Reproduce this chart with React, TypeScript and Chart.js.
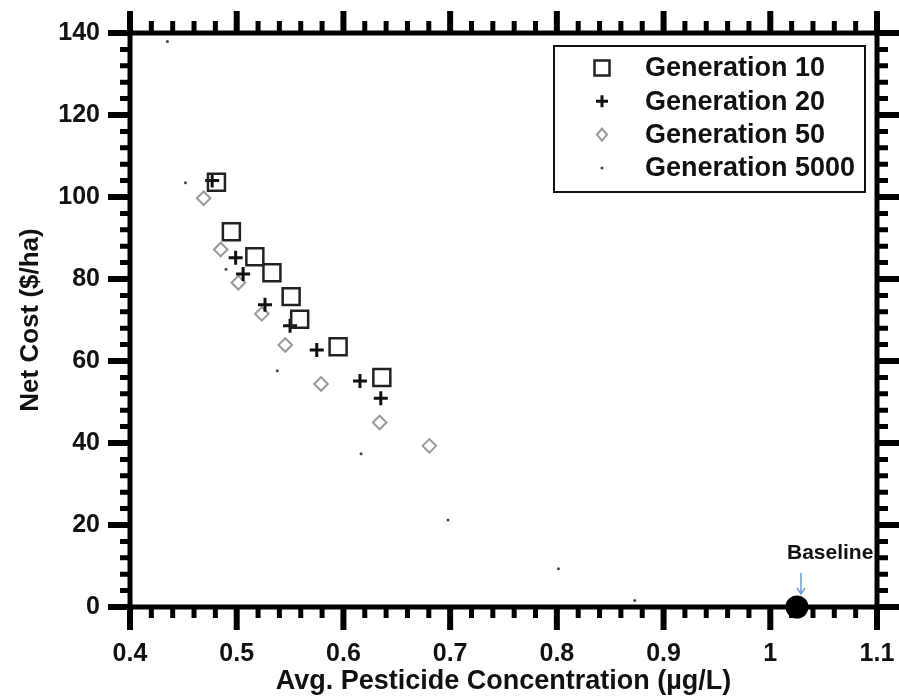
import React, { useEffect, useRef } from "react";
import { Chart, registerables } from "chart.js";

Chart.register(...registerables);

const GEN10_X = [0.481, 0.495, 0.517, 0.533, 0.551, 0.559, 0.595, 0.636];
const GEN10_Y = [103.6, 91.5, 85.4, 81.5, 75.7, 70.2, 63.5, 56.0];

const GEN20_X = [0.477, 0.499, 0.506, 0.5265, 0.55, 0.575, 0.6155, 0.635];
const GEN20_Y = [104.0, 85.2, 81.2, 73.7, 68.6, 62.7, 55.1, 50.9];

const GEN50_X = [0.469, 0.485, 0.5015, 0.5235, 0.5455, 0.579, 0.634, 0.6805];
const GEN50_Y = [99.7, 87.2, 79.1, 71.5, 63.9, 54.4, 45.0, 39.3];

const GEN5000_X = [0.435, 0.452, 0.49, 0.538, 0.6165, 0.698, 0.8015, 0.873];
const GEN5000_Y = [137.9, 103.5, 82.4, 57.6, 37.4, 21.2, 9.3, 1.6];

const BASELINE_X = [1.025];
const BASELINE_Y = [0];

const SERIES_NAMES = ["Generation 10", "Generation 20", "Generation 50", "Generation 5000"];
const X_TICKS = [0.4, 0.5, 0.6, 0.7, 0.8, 0.9, 1, 1.1];
const Y_TICKS = [0, 20, 40, 60, 80, 100, 120, 140];
const X_TITLE = "Avg. Pesticide Concentration (\u00b5g/L)";
const Y_TITLE = "Net Cost ($/ha)";
const BASELINE_LABEL = "Baseline";

const FONT = "'Liberation Sans', Arial, sans-serif";

const zip = (xs: number[], ys: number[]) => xs.map((x, i) => ({ x, y: ys[i] }));

function drawSymbol(ctx: CanvasRenderingContext2D, kind: number, x: number, y: number) {
  ctx.save();
  if (kind === 0) {
    ctx.strokeStyle = "#222";
    ctx.lineWidth = 2.5;
    ctx.strokeRect(x - 7.5, y - 7.5, 15, 15);
  } else if (kind === 1) {
    ctx.strokeStyle = "#111";
    ctx.lineWidth = 3;
    ctx.beginPath();
    ctx.moveTo(x - 6, y);
    ctx.lineTo(x + 6, y);
    ctx.moveTo(x, y - 6);
    ctx.lineTo(x, y + 6);
    ctx.stroke();
  } else if (kind === 2) {
    ctx.strokeStyle = "#999";
    ctx.lineWidth = 2;
    ctx.beginPath();
    ctx.moveTo(x, y - 6);
    ctx.lineTo(x + 5, y);
    ctx.lineTo(x, y + 6);
    ctx.lineTo(x - 5, y);
    ctx.closePath();
    ctx.stroke();
  } else {
    ctx.fillStyle = "#444";
    ctx.beginPath();
    ctx.arc(x, y, 1.5, 0, Math.PI * 2);
    ctx.fill();
  }
  ctx.restore();
}

const framePlugin = {
  id: "frameTicks",
  beforeDatasetsDraw(chart: any) {
    const { ctx, chartArea } = chart;
    const { left, right, top, bottom } = chartArea;
    const xs = chart.scales.x;
    const ys = chart.scales.y;
    ctx.save();
    ctx.strokeStyle = "#000";
    ctx.lineCap = "butt";
    for (let i = 0; i <= 35; i++) {
      const v = 0.4 + i * 0.02;
      const px = xs.getPixelForValue(v);
      const major = i % 5 === 0;
      ctx.lineWidth = major ? 6 : 5;
      ctx.beginPath();
      ctx.moveTo(px, bottom);
      ctx.lineTo(px, bottom + (major ? 23 : 11));
      ctx.moveTo(px, top);
      ctx.lineTo(px, top - (major ? 22 : 12));
      ctx.stroke();
    }
    for (let i = 0; i <= 35; i++) {
      const v = i * 4;
      const py = ys.getPixelForValue(v);
      const major = i % 5 === 0;
      ctx.lineWidth = major ? 6 : 5;
      ctx.beginPath();
      ctx.moveTo(left, py);
      ctx.lineTo(left - (major ? 22 : 10), py);
      ctx.moveTo(right, py);
      ctx.lineTo(right + (major ? 22 : 11), py);
      ctx.stroke();
    }
    ctx.lineWidth = 5;
    ctx.strokeRect(left, top, right - left, bottom - top);
    ctx.restore();
  },
  afterDatasetsDraw(chart: any) {
    const { ctx, chartArea } = chart;
    const xs = chart.scales.x;
    const ys = chart.scales.y;
    const bx = xs.getPixelForValue(BASELINE_X[0]);
    const by = ys.getPixelForValue(BASELINE_Y[0]);
    ctx.save();
    ctx.fillStyle = "#111";
    ctx.font = `bold 21px ${FONT}`;
    ctx.textAlign = "left";
    ctx.textBaseline = "middle";
    ctx.fillText(BASELINE_LABEL, bx - 10, by - 54);
    const ax = bx + 4;
    ctx.strokeStyle = "#6f9fcf";
    ctx.lineWidth = 1.5;
    ctx.beginPath();
    ctx.moveTo(ax, by - 34);
    ctx.lineTo(ax, by - 13);
    ctx.moveTo(ax - 4, by - 19);
    ctx.lineTo(ax, by - 13);
    ctx.lineTo(ax + 4, by - 19);
    ctx.stroke();
    ctx.restore();

    const lx = chartArea.right - 323;
    const ly = chartArea.top + 13;
    ctx.save();
    ctx.strokeStyle = "#111";
    ctx.lineWidth = 2;
    ctx.strokeRect(lx, ly, 311, 146);
    ctx.font = `bold 27px ${FONT}`;
    ctx.fillStyle = "#111";
    ctx.textAlign = "left";
    ctx.textBaseline = "middle";
    SERIES_NAMES.forEach((name, i) => {
      const ry = ly + 22 + i * 33.3;
      drawSymbol(ctx, i, lx + 48, ry);
      ctx.fillText(name, lx + 91, ry + 1);
    });
    ctx.restore();
  },
};

export default function App() {
  const ref = useRef<HTMLCanvasElement | null>(null);
  useEffect(() => {
    if (!ref.current) return;
    const tickFont = { family: FONT, size: 25, weight: "bold" as const };
    const xTitleFont = { family: FONT, size: 27, weight: "bold" as const };
    const yTitleFont = { family: FONT, size: 26, weight: "bold" as const };
    const noPad = (s: any) => {
      s.paddingLeft = 0;
      s.paddingRight = 0;
      s.paddingTop = 0;
      s.paddingBottom = 0;
    };
    const chart = new Chart(ref.current, {
      type: "scatter",
      data: {
        datasets: [
          {
            label: SERIES_NAMES[0],
            data: zip(GEN10_X, GEN10_Y),
            pointStyle: "rect",
            pointRadius: 12,
            borderColor: "#222",
            borderWidth: 2.5,
            backgroundColor: "rgba(0,0,0,0)",
          },
          {
            label: SERIES_NAMES[1],
            data: zip(GEN20_X, GEN20_Y),
            pointStyle: "cross",
            pointRadius: 7,
            borderColor: "#111",
            borderWidth: 3,
            backgroundColor: "rgba(0,0,0,0)",
          },
          {
            label: SERIES_NAMES[2],
            data: zip(GEN50_X, GEN50_Y),
            pointStyle: "rectRot",
            pointRadius: 6.8,
            borderColor: "#999",
            borderWidth: 2,
            backgroundColor: "rgba(0,0,0,0)",
          },
          {
            label: SERIES_NAMES[3],
            data: zip(GEN5000_X, GEN5000_Y),
            pointStyle: "circle",
            pointRadius: 1.5,
            borderWidth: 0,
            backgroundColor: "#444",
          },
          {
            label: BASELINE_LABEL,
            data: zip(BASELINE_X, BASELINE_Y),
            pointStyle: "circle",
            pointRadius: 11.5,
            borderWidth: 0,
            backgroundColor: "#000",
            clip: false as any,
          },
        ],
      },
      options: {
        responsive: false,
        animation: false,
        layout: { padding: 0 },
        plugins: { legend: { display: false }, tooltip: { enabled: false } },
        scales: {
          x: {
            type: "linear",
            position: "bottom",
            min: 0.4,
            max: 1.1,
            afterBuildTicks: (s: any) => {
              s.ticks = X_TICKS.map((v) => ({ value: v }));
            },
            afterFit: (s: any) => {
              s.height = 91;
              noPad(s);
            },
            ticks: {
              font: tickFont,
              color: "#111",
              padding: 10,
              maxRotation: 0,
              autoSkip: false,
              callback: (v: any) => String(Math.round(Number(v) * 10) / 10),
            },
            grid: { display: true, drawOnChartArea: false, drawTicks: true, tickLength: 22, color: "rgba(0,0,0,0)" },
            border: { display: false },
            title: { display: true, text: X_TITLE, font: xTitleFont, color: "#111", padding: { top: 0, bottom: 0 } },
          },
          x2: {
            type: "linear",
            position: "top",
            min: 0.4,
            max: 1.1,
            afterFit: (s: any) => {
              s.height = 33;
              noPad(s);
            },
            ticks: { display: false },
            grid: { display: false },
            border: { display: false },
          },
          y: {
            type: "linear",
            position: "left",
            min: 0,
            max: 140,
            afterBuildTicks: (s: any) => {
              s.ticks = Y_TICKS.map((v) => ({ value: v }));
            },
            afterFit: (s: any) => {
              s.width = 130;
              noPad(s);
            },
            ticks: {
              font: tickFont,
              color: "#111",
              padding: 8,
              autoSkip: false,
            },
            grid: { display: true, drawOnChartArea: false, drawTicks: true, tickLength: 22, color: "rgba(0,0,0,0)" },
            border: { display: false },
            title: { display: true, text: Y_TITLE, font: yTitleFont, color: "#111", padding: { top: 15, bottom: 0 } },
          },
          y2: {
            type: "linear",
            position: "right",
            min: 0,
            max: 140,
            afterFit: (s: any) => {
              s.width = 22;
              noPad(s);
            },
            ticks: { display: false },
            grid: { display: false },
            border: { display: false },
          },
        },
      },
      plugins: [framePlugin],
    } as any);
    return () => chart.destroy();
  }, []);
  return (
    <div style={{ position: "absolute", left: 0, top: 0, width: 899, height: 698, background: "#fff" }}>
      <canvas ref={ref} width={899} height={698} />
    </div>
  );
}
